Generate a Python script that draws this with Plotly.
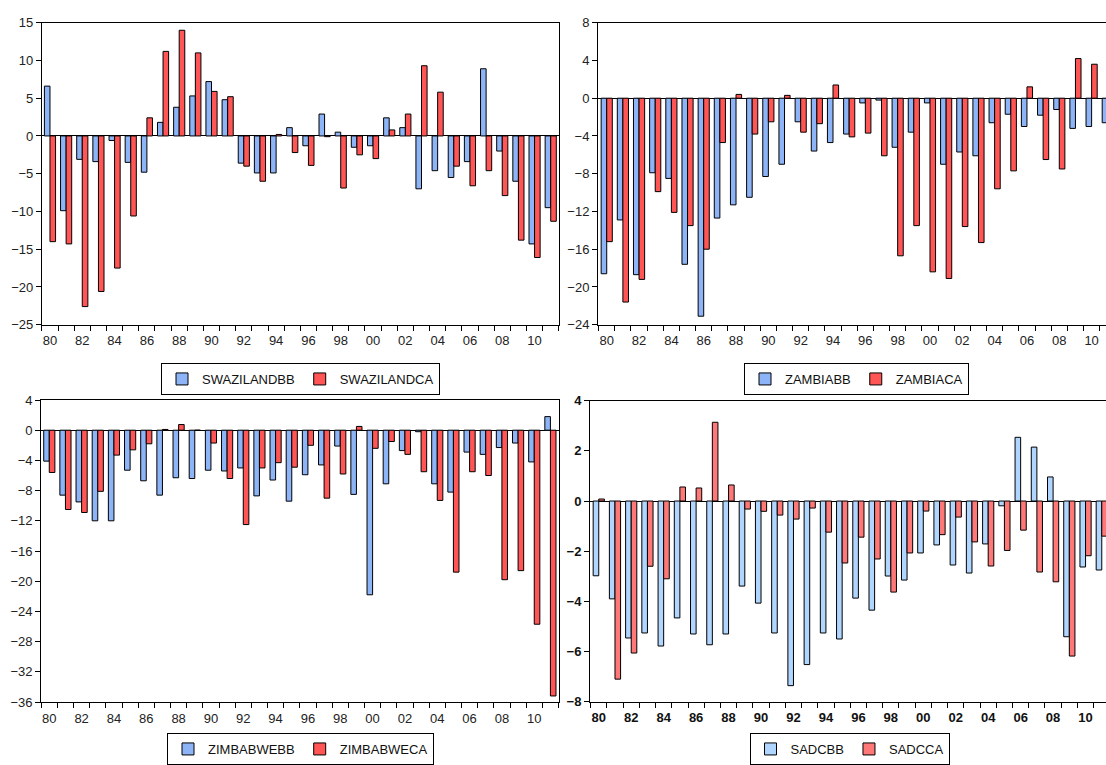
import plotly.graph_objects as go

years = list(range(1980, 2012))
year_labels = ["80", "82", "84", "86", "88", "90", "92", "94", "96", "98",
               "00", "02", "04", "06", "08", "10"]

swaziland_bb = [6.6, -9.9, -3.1, -3.4, -0.6, -3.5, -4.8, 1.8, 3.8, 5.3, 7.2, 4.8,
                -3.6, -4.9, -4.9, 1.1, -1.3, 2.9, 0.5, -1.5, -1.3, 2.4, 1.1, -7.0,
                -4.6, -5.5, -3.4, 8.9, -2.0, -6.0, -14.3, -9.5]
swaziland_ca = [-14.0, -14.3, -22.6, -20.6, -17.5, -10.6, 2.4, 11.2, 14.0, 11.0, 5.9, 5.2,
                -4.0, -6.0, 0.2, -2.2, -3.9, -0.1, -6.9, -2.5, -3.0, 0.8, 2.9, 9.3,
                5.8, -4.0, -6.6, -4.6, -7.9, -13.8, -16.1, -11.3]

zambia_bb = [-18.6, -12.9, -18.7, -7.9, -8.5, -17.6, -23.1, -12.7, -11.3, -10.5, -8.3, -7.0,
             -2.5, -5.6, -4.7, -3.8, -0.5, -0.2, -5.2, -3.6, -0.5, -7.0, -5.7, -6.1,
             -2.6, -1.7, -3.0, -1.8, -1.2, -3.2, -3.0, -2.6]
zambia_ca = [-15.2, -21.6, -19.2, -9.9, -12.1, -13.5, -16.0, -4.7, 0.4, -3.8, -2.5, 0.3,
             -3.6, -2.7, 1.4, -4.1, -3.7, -6.1, -16.7, -13.5, -18.4, -19.1, -13.6, -15.3,
             -9.6, -7.7, 1.2, -6.5, -7.5, 4.2, 3.6, None]

zimbabwe_bb = [-4.1, -8.6, -9.5, -12.0, -12.0, -5.3, -6.7, -8.6, -6.3, -6.4, -5.3, -5.4,
               -5.0, -8.7, -6.6, -9.4, -5.9, -4.6, -2.1, -8.5, -21.8, -7.1, -2.7, -0.2,
               -7.1, -8.2, -2.9, -3.2, -2.3, -1.7, -4.2, 1.8]
zimbabwe_ca = [-5.6, -10.5, -10.9, -8.1, -3.3, -2.6, -1.8, 0.1, 0.75, 0.0, -1.7, -6.4,
               -12.5, -5.0, -4.3, -4.9, -2.0, -9.0, -5.8, 0.5, -2.4, -1.5, -3.2, -5.5,
               -9.3, -18.8, -5.5, -6.0, -19.8, -18.6, -25.7, -35.2]

sadc_bb = [-2.98, -3.9, -5.46, -5.26, -5.78, -4.66, -5.3, -5.73, -5.3, -3.39, -4.07, -5.26,
           -7.36, -6.52, -5.26, -5.5, -3.87, -4.35, -2.99, -3.15, -2.07, -1.75, -2.55, -2.87,
           -1.71, -0.19, 2.54, 2.15, 0.96, -5.41, -2.63, -2.75]
sadc_ca = [0.08, -7.1, -6.06, -2.6, -3.1, 0.56, 0.52, 3.14, 0.64, -0.32, -0.41, -0.56,
           -0.72, -0.28, -1.24, -2.47, -1.44, -2.31, -3.63, -2.07, -0.4, -1.34, -0.64, -1.63,
           -2.59, -1.97, -1.16, -2.83, -3.22, -6.18, -2.18, -1.4]

W, H = 1106, 765
idx = list(range(len(years)))

panels = [
    dict(bb=swaziland_bb, ca=swaziland_ca, names=("SWAZILANDBB", "SWAZILANDCA"),
         x=(41.9, 558.8), y=(22.7, 324.7), xr=(-0.5, 31.5), yr=(-25, 15), dt=5,
         colors=("#8db4f7", "#ff5555"), mirror=True,
         legend=dict(x=300.5, y=379, anchor="middle")),
    dict(bb=zambia_bb, ca=zambia_ca, names=("ZAMBIABB", "ZAMBIACA"),
         x=(598.0, 1106), y=(22.7, 324.7), xr=(-0.54, 30.89), yr=(-24, 8), dt=4,
         colors=("#8db4f7", "#ff5555"), mirror=False,
         legend=dict(x=856.5, y=379, anchor="middle")),
    dict(bb=zimbabwe_bb, ca=zimbabwe_ca, names=("ZIMBABWEBB", "ZIMBABWECA"),
         x=(41.2, 558.5), y=(400.0, 702.0), xr=(-0.5, 31.5), yr=(-36, 4), dt=4,
         colors=("#8db4f7", "#ff5555"), mirror=True,
         legend=dict(x=300.5, y=765, anchor="bottom")),
    dict(bb=sadc_bb, ca=sadc_ca, names=("SADCBB", "SADCCA"),
         x=(590.0, 1106), y=(400.7, 701.7), xr=(-0.54, 31.26), yr=(-8, 4), dt=2,
         colors=("#b0d6ff", "#ff7878"), mirror=False,
         legend=dict(x=849.5, y=765, anchor="bottom")),
]

fig = go.Figure()
layout = dict(
    width=W, height=H, autosize=False,
    margin=dict(l=0, r=0, t=0, b=0, pad=0),
    paper_bgcolor="white", plot_bgcolor="white",
    barmode="group", bargap=0.31, bargroupgap=0.0,
    font=dict(family="Liberation Sans, Arial, sans-serif", size=13, color="#222222"),
)

for i, p in enumerate(panels, start=1):
    sfx = "" if i == 1 else str(i)
    lg = "legend" if i == 1 else "legend%d" % i
    for vals, name, col in zip((p["bb"], p["ca"]), p["names"], p["colors"]):
        fig.add_trace(go.Bar(
            x=idx, y=vals, name=name, xaxis="x" + sfx, yaxis="y" + sfx,
            legend=lg,
            marker=dict(color=col, line=dict(color="black", width=1)),
        ))
    tickfont = dict(size=13, color="#222222")
    if i == 4:
        tickfont = dict(size=13, color="#111111", family="Liberation Sans, Arial", weight="bold")
    layout["xaxis" + sfx] = dict(
        domain=[p["x"][0] / W, p["x"][1] / W], range=list(p["xr"]),
        anchor="y" + sfx, showgrid=False, zeroline=False, automargin=False,
        showline=True, linecolor="black", linewidth=1, mirror=True,
        tickmode="array", tickvals=idx[::2], ticktext=year_labels,
        ticks="", ticklabelstandoff=4, tickfont=tickfont,
        minor=dict(tickmode="array", tickvals=[k - 0.5 for k in range(33)],
                   ticks="outside", ticklen=5, tickcolor="black", tickwidth=1,
                   showgrid=False),
    )
    layout["yaxis" + sfx] = dict(
        domain=[1 - p["y"][1] / H, 1 - p["y"][0] / H], range=list(p["yr"]),
        anchor="x" + sfx, showgrid=False, automargin=False,
        zeroline=True, zerolinecolor="black", zerolinewidth=1,
        showline=True, linecolor="black", linewidth=1, mirror=p["mirror"],
        tickmode="linear", tick0=0, dtick=p["dt"],
        ticks="outside", ticklen=5, tickcolor="black", tickfont=tickfont,
    )
    lgp = p["legend"]
    layout[lg] = dict(
        orientation="h", x=lgp["x"] / W, y=1 - lgp["y"] / H,
        xanchor="center", yanchor=lgp["anchor"],
        bordercolor="black", borderwidth=1, bgcolor="white",
        font=dict(size=13, color="#111111"), itemwidth=30,
        tracegroupgap=0,
    )

fig.update_layout(**layout)
fig.write_html("out.html", config={"displayModeBar": False},
               post_script="document.body.style.margin='0';")
